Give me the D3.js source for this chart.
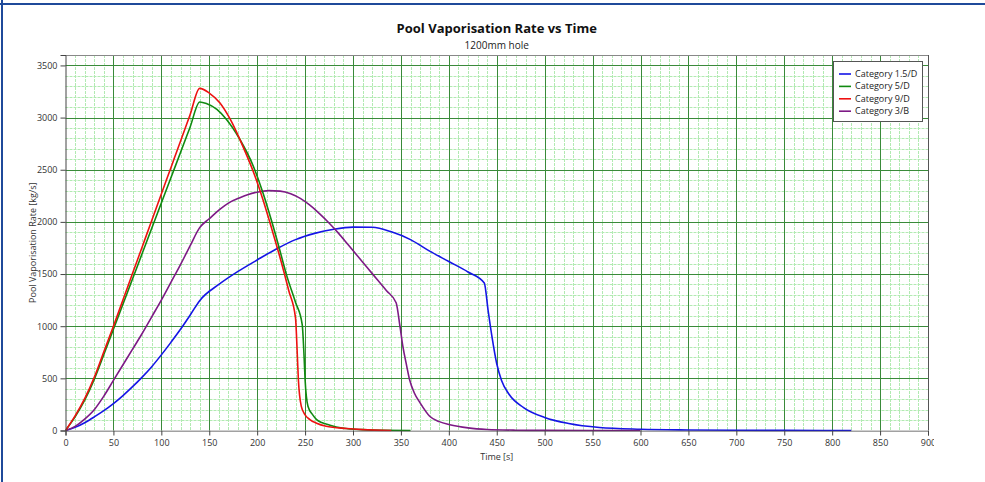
<!DOCTYPE html>
<html><head><meta charset="utf-8">
<script src="https://cdn.jsdelivr.net/npm/d3@7"></script>
<style>
html,body{margin:0;padding:0;background:#fff;}
svg{display:block;font-family:"Open Sans","Noto Sans",sans-serif;}
</style></head>
<body><svg id="c" width="985" height="482"></svg>
<script>
// ---- data ----
const titleText = "Pool Vaporisation Rate vs Time";
const subtitleText = "1200mm hole";
const xLabel = "Time [s]";
const yLabel = "Pool Vaporisation Rate [kg/s]";
const xTicks = [0,50,100,150,200,250,300,350,400,450,500,550,600,650,700,750,800,850,900];
const yTicks = [0,500,1000,1500,2000,2500,3000,3500];
const seriesNames = ["Category 1.5/D","Category 5/D","Category 9/D","Category 3/B"];
const seriesColors = ["#1515e6","#108a10","#ee1111","#7d1a85"];

const cat15D = [[0,0],[10,30],[20,75],[30,130],[40,190],[50,258],[60,335],[70,420],[80,512],[90,612],[100,725],[110,845],[120,970],[130,1105],[140,1245],[160,1400],[180,1525],[200,1635],[220,1740],[240,1830],[260,1890],[280,1930],[300,1950],[320,1948],[340,1905],[360,1830],[380,1720],[400,1620],[420,1520],[437,1415],[441,1150],[445,900],[450,640],[455,480],[463,345],[478,220],[500,125],[525,67],[557,29],[600,12],[650,5],[700,2],[750,1],[820,0]];
const cat5D = [[0,0],[10,130],[20,290],[30,490],[40,728],[50,970],[60,1212],[70,1454],[80,1697],[90,1939],[100,2181],[110,2423],[120,2666],[130,2908],[140,3150],[147,3135],[158,3078],[168,2982],[182,2790],[196,2534],[206,2279],[215,2010],[223,1750],[231,1480],[240,1230],[247,1016],[249,700],[250,489],[253,233],[258,150],[262,105],[276,51],[290,22],[310,8],[330,2],[360,0]];
const cat9D = [[0,0],[10,140],[20,305],[30,510],[40,755],[50,1000],[60,1253],[70,1507],[80,1760],[90,2013],[100,2267],[110,2520],[120,2773],[130,3027],[140,3280],[150,3235],[161,3142],[172,2982],[185,2726],[199,2407],[206,2215],[215,1940],[225,1620],[233,1340],[240,1080],[242,700],[243,489],[246,233],[250,150],[255,105],[262,70],[272,41],[293,19],[310,8],[340,0]];
const cat3B = [[0,0],[10,40],[20,110],[30,200],[40,330],[50,480],[60,630],[70,780],[80,930],[90,1090],[100,1250],[110,1420],[120,1590],[130,1770],[140,1945],[150,2030],[161,2120],[170,2180],[182,2232],[190,2260],[200,2285],[212,2300],[224,2295],[235,2270],[245,2225],[255,2160],[265,2080],[275,1990],[285,1890],[295,1780],[305,1670],[315,1560],[325,1450],[335,1340],[345,1225],[349,1000],[352,808],[356,620],[359,489],[364,360],[370,265],[380,137],[390,85],[401,55],[420,25],[440,10],[470,3],[500,1],[600,0]];
const seriesData = [cat15D, cat5D, cat9D, cat3B];

// ---- layout ----
const svg = d3.select("#c");
const L = 65.5, R = 928, T = 55, B = 430.5;
const x = d3.scaleLinear().domain([0,900]).range([L,R]);
const y = d3.scaleLinear().domain([0,3600]).range([B,T]);
const snap = v => Math.round(v) + 0.5;

// outer frame lines (top and left)
svg.append("line").attr("x1",0).attr("x2",985).attr("y1",4).attr("y2",4).attr("stroke","#1f4a9a").attr("stroke-width",2);
svg.append("line").attr("x1",2).attr("x2",2).attr("y1",0).attr("y2",482).attr("stroke","#1f4a9a").attr("stroke-width",2);

// titles
svg.append("text").attr("x",(L+R)/2).attr("y",33).attr("text-anchor","middle").attr("font-size",13).attr("font-weight","bold").attr("fill","#111").text(titleText);
svg.append("text").attr("x",(L+R)/2).attr("y",48.5).attr("text-anchor","middle").attr("font-size",10).attr("fill","#222").text(subtitleText);

// grid
const g = svg.append("g");
const minorX = d3.range(0,901,10).filter(v => v % 50 !== 0);
const minorY = d3.range(0,3601,100).filter(v => v % 500 !== 0);
g.selectAll(".mx").data(minorX).join("line").attr("x1",d=>snap(x(d))).attr("x2",d=>snap(x(d))).attr("y1",T).attr("y2",B).attr("stroke","#b2eab2").attr("stroke-width",1).attr("stroke-dasharray","3,1");
g.selectAll(".my").data(minorY).join("line").attr("y1",d=>snap(y(d))).attr("y2",d=>snap(y(d))).attr("x1",L).attr("x2",R).attr("stroke","#b2eab2").attr("stroke-width",1).attr("stroke-dasharray","3,1");
g.selectAll(".Mx").data(xTicks.slice(1,-1)).join("line").attr("x1",d=>snap(x(d))).attr("x2",d=>snap(x(d))).attr("y1",T).attr("y2",B).attr("stroke","#3a8a3a").attr("stroke-width",1);
g.selectAll(".My").data(yTicks.slice(1)).join("line").attr("y1",d=>snap(y(d))).attr("y2",d=>snap(y(d))).attr("x1",L).attr("x2",R).attr("stroke","#3a8a3a").attr("stroke-width",1);

// plot border (top/right)
svg.append("line").attr("x1",L).attr("x2",snap(R)).attr("y1",snap(T)).attr("y2",snap(T)).attr("stroke","#888");
svg.append("line").attr("x1",snap(R)).attr("x2",snap(R)).attr("y1",T).attr("y2",B).attr("stroke","#555");

// series
const line = d3.line().x(d=>x(d[0])).y(d=>y(d[1])).curve(d3.curveMonotoneX);
svg.append("defs").append("clipPath").attr("id","pc").append("rect").attr("x",L).attr("y",T).attr("width",R-L).attr("height",B-T+1);
svg.append("defs").append("clipPath").attr("id","xc").append("rect").attr("x",0).attr("y",0).attr("width",934).attr("height",482);
const sg = svg.append("g").attr("clip-path","url(#pc)");
[0,3,1,2].forEach(i => {
  sg.append("path").datum(seriesData[i]).attr("d",line).attr("fill","none").attr("stroke",seriesColors[i]).attr("stroke-width",1.6).attr("stroke-linejoin","round");
});

// axes
const xAxis = d3.axisBottom(x).tickValues(xTicks).tickSize(5).tickPadding(4).tickFormat(d3.format("d"));
const xMinorAxis = d3.axisBottom(x).tickValues(minorX).tickSize(3).tickFormat("");
const yAxis = d3.axisLeft(y).tickValues(yTicks).tickSize(5).tickPadding(3).tickFormat(d3.format("d"));
const yMinorAxis = d3.axisLeft(y).tickValues(minorY).tickSize(3).tickFormat("");
const gx = svg.append("g").attr("transform",`translate(0,${B})`).attr("clip-path","url(#xc)");
gx.call(xMinorAxis); gx.call(xAxis);
const gy = svg.append("g").attr("transform",`translate(${L},0)`);
gy.call(yMinorAxis); gy.call(yAxis);
[gx,gy].forEach(a => {
  a.selectAll(".domain").attr("stroke","#444");
  a.selectAll(".tick line").attr("stroke","#444");
  a.selectAll("text").attr("font-size",9).attr("fill","#333").attr("font-family","'Open Sans',sans-serif");
});

// axis titles
svg.append("text").attr("x",(L+R)/2).attr("y",460).attr("text-anchor","middle").attr("font-size",9).attr("fill","#333").text(xLabel);
svg.append("text").attr("transform",`translate(36,${(T+B)/2}) rotate(-90)`).attr("text-anchor","middle").attr("font-size",9).attr("fill","#333").text(yLabel);

// legend
const lg = svg.append("g");
lg.append("rect").attr("x",833.5).attr("y",61.5).attr("width",89).attr("height",60).attr("fill","#fff").attr("stroke","#555");
seriesNames.forEach((n,i) => {
  const yy = 74 + i*12.4;
  lg.append("line").attr("x1",839).attr("x2",851).attr("y1",yy).attr("y2",yy).attr("stroke",seriesColors[i]).attr("stroke-width",1.6);
  lg.append("text").attr("x",855).attr("y",yy+3).attr("font-size",9).attr("fill","#222").text(n);
});
</script></body></html>
